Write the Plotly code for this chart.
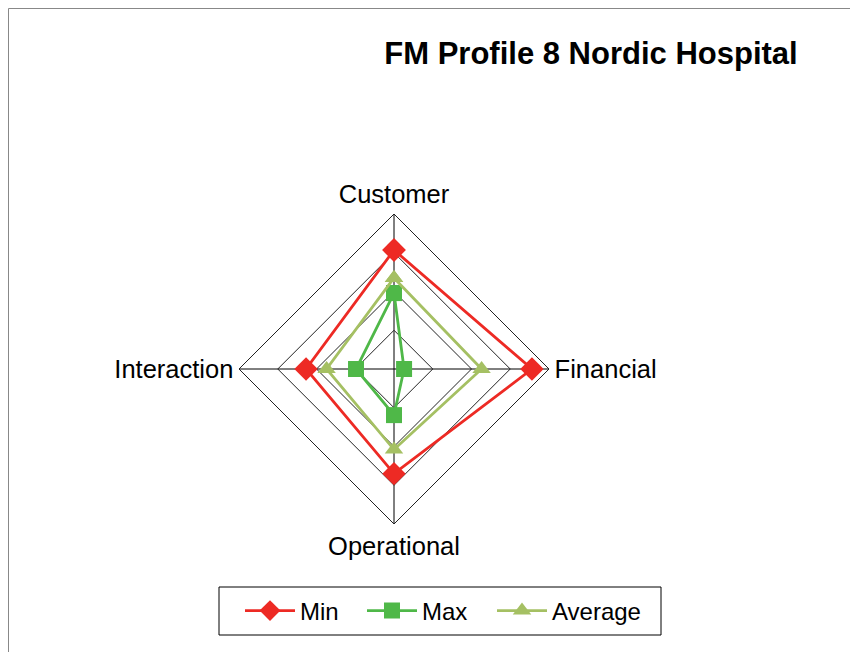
import plotly.graph_objects as go

# Profile dimensions, clockwise from the top
categories = ["Customer", "Financial", "Operational", "Interaction"]

# Values (radial scale 0-4)
min_values = [3.07, 3.56, 2.70, 2.27]
max_values = [1.96, 0.26, 1.19, 0.98]
avg_values = [2.35, 2.26, 2.08, 1.74]

series = [
    ("Min", min_values, "#ED2A24", "diamond", 18),
    ("Max", max_values, "#4FB848", "square", 16),
    ("Average", avg_values, "#A5C063", "triangle-up", 16),
]

W, H = 858, 652
# the page body adds 8px margin, so figure coords = screen coords - 8
cx, cy, rad = 386, 361, 155
# each legend entry gets its own legend so spacing matches the original
legend_names = ["legend", "legend2", "legend3"]
legend_x = [232, 354, 484]

fig = go.Figure()
for (name, vals, color, symbol, size), lg in zip(series, legend_names):
    # close the polygon by repeating the first point
    fig.add_trace(go.Scatterpolar(
        r=vals + vals[:1],
        theta=categories + categories[:1],
        mode="lines+markers",
        name=name,
        legend=lg,
        showlegend=True,
        line=dict(color=color, width=2.8),
        marker=dict(symbol=symbol, size=size, color=color),
    ))

legend_style = dict(
    orientation="h", xanchor="left",
    y=49 / H, yanchor="middle",
    borderwidth=0,
    bgcolor="rgba(0,0,0,0)",
    font=dict(size=24),
    itemwidth=50,
)

fig.update_layout(
    width=W,
    height=H,
    showlegend=True,
    paper_bgcolor="white",
    plot_bgcolor="white",
    margin=dict(l=0, r=0, t=0, b=0),
    font=dict(family="Liberation Sans, Arial, sans-serif", size=24, color="black"),
    title=dict(
        text="<b>FM Profile 8 Nordic Hospital</b>",
        x=583 / W, xanchor="center",
        y=1 - 45 / H, yanchor="middle",
        font=dict(size=31, color="black"),
    ),
    polar=dict(
        domain=dict(x=[(cx - rad) / W, (cx + rad) / W],
                    y=[(H - cy - rad) / H, (H - cy + rad) / H]),
        bgcolor="white",
        gridshape="linear",
        angularaxis=dict(
            rotation=90,
            direction="clockwise",
            showline=True,
            linecolor="#222222",
            linewidth=1,
            gridcolor="black",
            gridwidth=1,
            ticks="",
            tickfont=dict(size=25.5),
        ),
        radialaxis=dict(
            range=[0, 4],
            dtick=1,
            showticklabels=False,
            showline=False,
            ticks="",
            gridcolor="#222222",
            gridwidth=0.8,
        ),
    ),
    legend=dict(x=legend_x[0] / W, **legend_style),
    legend2=dict(x=legend_x[1] / W, **legend_style),
    legend3=dict(x=legend_x[2] / W, **legend_style),
    shapes=[
        # chart frame
        dict(type="rect", xref="paper", yref="paper",
             x0=0.5 / W, x1=1.05, y0=-0.05, y1=1 - 0.5 / H,
             line=dict(color="#888888", width=1)),
        # legend box
        dict(type="rect", xref="paper", yref="paper",
             x0=211 / W, x1=653 / W, y0=25 / H, y1=73 / H,
             line=dict(color="black", width=1)),
    ],
)

fig.write_html("out.html")
